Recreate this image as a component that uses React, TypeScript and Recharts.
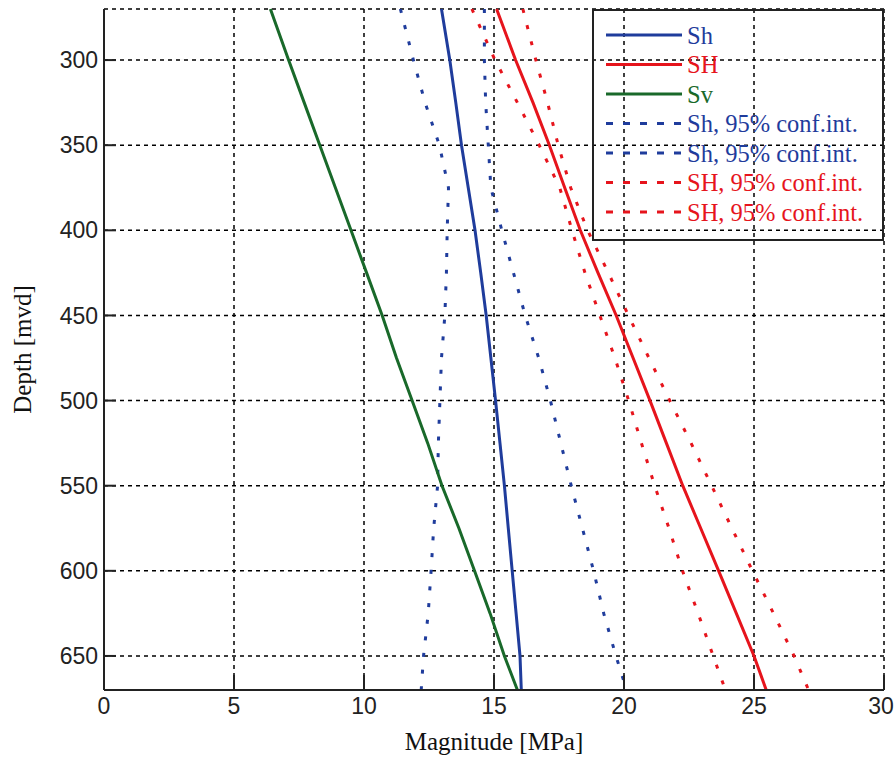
import { LineChart, Line, XAxis, YAxis, CartesianGrid, Legend } from "recharts";

// depth [mvd] on the vertical axis
const depths = [270, 300, 325, 350, 375, 400, 425, 450, 475, 500, 525, 550, 575, 600, 625, 650, 670];

// magnitudes [MPa]
const shMean = [12.98, 13.3, 13.53, 13.75, 14.01, 14.27, 14.49, 14.7, 14.88, 15.06, 15.23, 15.4, 15.55, 15.7, 15.85, 16.0, 16.05];
const bigShMean = [15.1, 15.83, 16.5, 17.13, 17.72, 18.32, 19.0, 19.7, 20.35, 21.0, 21.63, 22.26, 22.95, 23.64, 24.32, 25.0, 25.47];
const svMean = [6.4, 7.1, 7.7, 8.3, 8.9, 9.5, 10.1, 10.7, 11.25, 11.85, 12.45, 13.0, 13.65, 14.25, 14.85, 15.4, 15.9];
const shLow = [11.4, 11.9, 12.35, 12.9, 13.25, 13.2, 13.17, 13.11, 12.98, 12.92, 12.86, 12.83, 12.68, 12.58, 12.47, 12.29, 12.2];
const shHigh = [14.63, 14.63, 14.68, 14.78, 14.88, 15.3, 15.75, 16.2, 16.72, 17.17, 17.57, 17.97, 18.4, 18.83, 19.22, 19.69, 20.1];
const bigShLow = [14.15, 15.04, 15.9, 16.74, 17.53, 18.0, 18.5, 19.07, 19.65, 20.18, 20.67, 21.18, 21.73, 22.25, 22.85, 23.43, 23.9];
const bigShHigh = [16.11, 16.61, 17.06, 17.47, 17.95, 18.6, 19.4, 20.17, 20.96, 21.76, 22.58, 23.37, 24.15, 24.94, 25.75, 26.54, 27.1];

const xTicks = [0, 5, 10, 15, 20, 25, 30];
const yTicks = [300, 350, 400, 450, 500, 550, 600, 650];

const BLUE = "#1f3c9c";
const RED = "#e6141c";
const GREEN = "#19692a";

const series = [
  { key: "Sh", label: "Sh", color: BLUE, dashed: false },
  { key: "SH", label: "SH", color: RED, dashed: false },
  { key: "Sv", label: "Sv", color: GREEN, dashed: false },
  { key: "ShLo", label: "Sh, 95% conf.int.", color: BLUE, dashed: true },
  { key: "ShHi", label: "Sh, 95% conf.int.", color: BLUE, dashed: true },
  { key: "SHLo", label: "SH, 95% conf.int.", color: RED, dashed: true },
  { key: "SHHi", label: "SH, 95% conf.int.", color: RED, dashed: true },
];

const data = depths.map((depth, i) => ({
  depth,
  Sh: shMean[i],
  SH: bigShMean[i],
  Sv: svMean[i],
  ShLo: shLow[i],
  ShHi: shHigh[i],
  SHLo: bigShLow[i],
  SHHi: bigShHigh[i],
}));

const tickFont = { fontFamily: "'Liberation Sans', Arial, sans-serif", fontSize: 23, fill: "#222" };
const titleFont = { fontFamily: "'Liberation Serif', 'Times New Roman', serif", fontSize: 25, fill: "#111" };

// last label sits at the page edge, nudge it in a little
function XTick(props: any) {
  const { x, y, payload } = props;
  const shift = payload.value === 30 ? -3 : 0;
  return (
    <text x={x + shift} y={y} dy="0.71em" textAnchor="middle" {...tickFont}>
      {payload.value}
    </text>
  );
}

function LegendBox() {
  return (
    <svg width={292} height={232} style={{ display: "block" }}>
      <rect x={1} y={1} width={290} height={230} fill="none" stroke="#222" strokeWidth={2} />
      {series.map((s, i) => {
        const y = 26 + i * 29.5;
        return (
          <g key={s.key}>
            <line
              x1={14}
              x2={90}
              y1={y}
              y2={y}
              stroke={s.color}
              strokeWidth={3}
              strokeDasharray={s.dashed ? "7 10" : undefined}
            />
            <text
              x={95}
              y={y}
              dominantBaseline="central"
              fill={s.color}
              fontFamily="'Liberation Serif', 'Times New Roman', serif"
              fontSize={24.5}
            >
              {s.label}
            </text>
          </g>
        );
      })}
    </svg>
  );
}

export default function App() {
  return (
    <div style={{ position: "absolute", left: 0, top: 0, background: "#fff" }}>
      <LineChart
        width={895}
        height={760}
        data={data}
        layout="vertical"
        margin={{ top: 9, right: 11, bottom: 0, left: 0 }}
      >
        <CartesianGrid stroke="#000" strokeWidth={1.5} strokeDasharray="4 4" />
        <XAxis
          type="number"
          domain={[0, 30]}
          ticks={xTicks}
          interval={0}
          height={70}
          tickSize={-15}
          tickMargin={23}
          tick={<XTick />}
          axisLine={{ stroke: "#222", strokeWidth: 2 }}
          tickLine={{ stroke: "#222", strokeWidth: 2 }}
          label={{ value: "Magnitude [MPa]", position: "insideBottom", offset: 10, style: titleFont }}
        />
        <XAxis
          xAxisId="top"
          orientation="top"
          type="number"
          domain={[0, 30]}
          ticks={xTicks}
          interval={0}
          height={0}
          tickSize={-15}
          tick={false}
          axisLine={{ stroke: "#222", strokeWidth: 2 }}
          tickLine={{ stroke: "#222", strokeWidth: 2 }}
        />
        <YAxis
          type="number"
          dataKey="depth"
          domain={[270, 670]}
          ticks={yTicks}
          interval={0}
          width={104}
          tickSize={-12}
          tickMargin={18}
          tick={tickFont}
          axisLine={{ stroke: "#222", strokeWidth: 2 }}
          tickLine={{ stroke: "#222", strokeWidth: 2 }}
          label={{
            value: "Depth [mvd]",
            angle: -90,
            position: "insideLeft",
            offset: 22,
            style: { ...titleFont, textAnchor: "middle" },
          }}
        />
        <YAxis
          yAxisId="right"
          orientation="right"
          type="number"
          domain={[270, 670]}
          ticks={yTicks}
          interval={0}
          width={0}
          tickSize={-12}
          tick={false}
          axisLine={{ stroke: "#222", strokeWidth: 2 }}
          tickLine={{ stroke: "#222", strokeWidth: 2 }}
        />
        <Legend
          layout="vertical"
          align="center"
          verticalAlign="middle"
          wrapperStyle={{ top: 9, left: 592, width: 292, height: 232 }}
          content={() => <LegendBox />}
        />
        {series
          .slice()
          .reverse()
          .map((s) => (
            <Line
              key={s.key}
              type="linear"
              dataKey={s.key}
              name={s.label}
              stroke={s.color}
              strokeWidth={3}
              strokeDasharray={s.dashed ? "4 12.7" : undefined}
              dot={false}
              activeDot={false}
              isAnimationActive={false}
            />
          ))}
      </LineChart>
    </div>
  );
}
